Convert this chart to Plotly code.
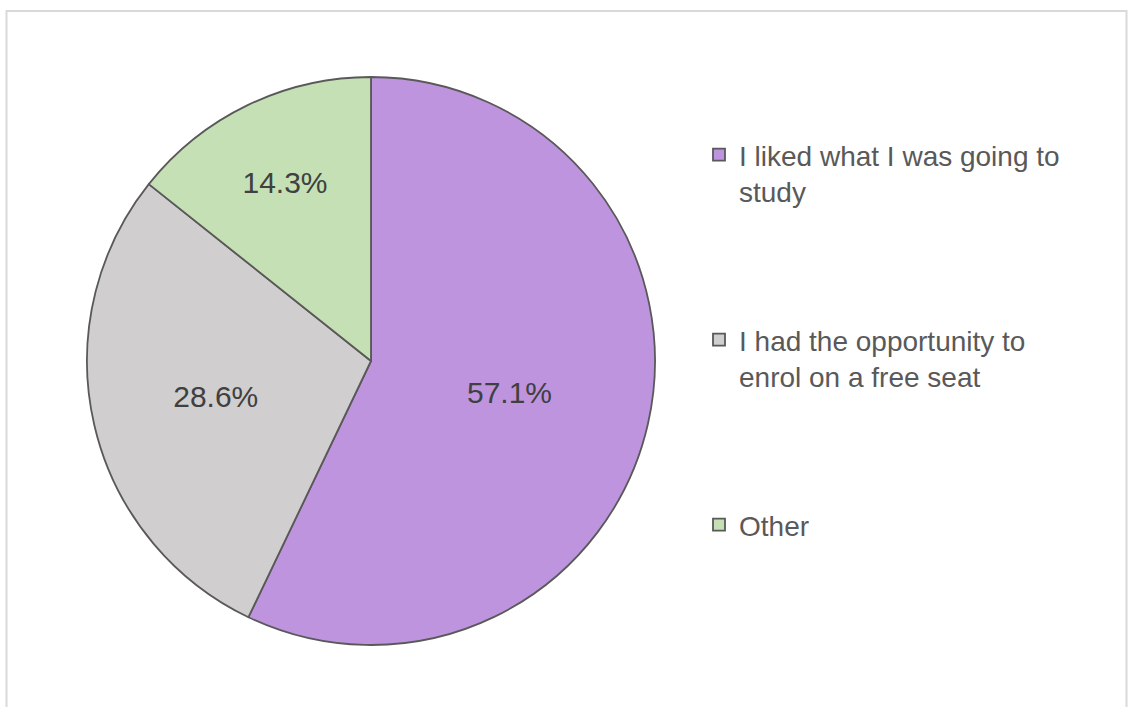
import plotly.graph_objects as go

labels = [
    "I liked what I was going to<br>study",
    "I had the opportunity to<br>enrol on a free seat",
    "Other",
]
values = [57.1, 28.6, 14.3]
colors = ["#BF94DF", "#D0CECE", "#C5E0B4"]

W, H = 1129, 707
pad = "<br> <br> <br> "
legend_text = [labels[0] + pad, labels[1] + pad, labels[2]]

fig = go.Figure(
    go.Pie(
        labels=legend_text,
        values=values,
        sort=False,
        direction="clockwise",
        rotation=0,
        marker=dict(colors=colors, line=dict(color="#595959", width=1.8)),
        textinfo="percent",
        texttemplate="%{percent:.1%}",
        textposition="inside",
        insidetextorientation="horizontal",
        textfont=dict(family="Liberation Sans, Arial, sans-serif", size=30, color="#404040"),
        domain=dict(x=[87 / W, 655 / W], y=[1 - 645 / H, 1 - 77 / H]),
        hoverinfo="label+percent",
    )
)

fig.update_layout(
    width=W,
    height=H,
    margin=dict(l=0, r=0, t=0, b=0),
    paper_bgcolor="white",
    plot_bgcolor="white",
    showlegend=True,
    legend=dict(
        x=699 / W,
        xanchor="left",
        y=1 - 130 / H,
        yanchor="top",
        valign="top",
        font=dict(family="Liberation Sans, Arial, sans-serif", size=28, color="#595959"),
        bgcolor="rgba(0,0,0,0)",
        itemclick=False,
    ),
    shapes=[
        dict(
            type="rect", xref="paper", yref="paper",
            x0=6.5 / W, x1=1126.5 / W, y0=-0.02, y1=1 - 11 / H,
            line=dict(color="#D9D9D9", width=2), fillcolor="rgba(0,0,0,0)",
            layer="below",
        )
    ],
)

fig.write_html("out.html")
